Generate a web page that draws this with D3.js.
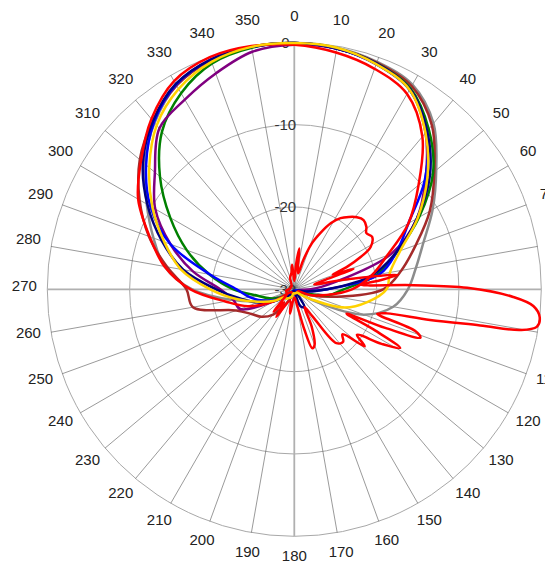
<!DOCTYPE html>
<html>
<head>
<meta charset="utf-8">
<script src="https://cdn.jsdelivr.net/npm/d3@7"></script>
<style>
  body { margin: 0; background: #fff; }
  svg text { font-family: "Liberation Sans", Arial, sans-serif; }
</style>
</head>
<body>
<svg width="545" height="564"></svg>
<script>
// angle ticks and ring ticks
var angleTicks = d3.range(0, 360, 10);
var ringTicks = [-30, -20, -10, 0];

// angles (deg) for the broad patterns
var angles = [0,10,20,30,40,50,60,70,80,90,100,110,120,130,140,150,160,170,
              180,190,200,210,220,230,240,250,260,270,280,290,300,310,320,330,340,350];

var gray   = [-0.1,-0.2,-0.6,-1.3,-3.7,-7.5,-10.6,-13.3,-15.0,-16.2,-17.8,-21.0,-27.0,-29.5,-29.8,-29.8,-29.8,-29.8,
              -29.8,-29.8,-29.8,-29.8,-29.5,-29.0,-28.5,-26.0,-22.5,-17.6,-14.0,-11.8,-9.3,-6.3,-3.6,-1.4,-0.4,-0.1];
var brown  = [-0.1,-0.3,-0.7,-1.5,-4.0,-7.8,-11.0,-14.3,-16.8,-19.2,-24.8,-28.0,-29.5,-29.8,-29.8,-29.8,-29.8,-29.8,
              -29.5,-29.5,-29.0,-28.0,-26.0,-24.8,-24.0,-22.5,-17.5,-16.9,-14.3,-11.2,-8.3,-5.5,-3.3,-1.4,-0.4,-0.1];
var green  = [-0.1,-0.3,-0.8,-1.8,-4.6,-8.0,-12.5,-16.7,-19.8,-24.0,-25.8,-28.5,-29.5,-29.8,-29.8,-29.8,-29.8,-29.8,
              -29.8,-29.8,-29.8,-29.8,-29.5,-29.0,-28.0,-26.8,-25.5,-22.6,-19.5,-16.1,-12.6,-8.7,-5.0,-2.5,-0.8,-0.2];
var purple = [-0.3,-0.3,-0.9,-2.0,-5.2,-9.2,-12.8,-17.5,-25.0,-28.0,-29.5,-29.5,-29.5,-29.8,-29.8,-29.8,-29.8,-29.8,
              -29.8,-29.8,-29.8,-29.5,-29.5,-29.0,-27.0,-23.0,-22.5,-21.0,-17.5,-14.0,-10.5,-7.9,-4.5,-3.4,-2.1,-0.7];
var blue   = [-0.1,-0.3,-0.9,-2.0,-5.0,-9.3,-14.0,-16.8,-19.5,-26.0,-28.5,-29.5,-29.8,-29.8,-29.8,-29.8,-29.8,-29.8,
              -29.8,-29.8,-29.8,-29.8,-29.5,-29.0,-27.5,-26.0,-24.5,-23.0,-19.6,-14.0,-9.8,-6.5,-3.5,-1.3,-0.3,-0.1];
var navy   = [-0.1,-0.3,-0.8,-1.9,-4.9,-8.5,-12.8,-16.8,-20.5,-26.0,-28.5,-29.5,-29.5,-29.5,-29.5,-27.5,-27.8,-29.5,
              -29.8,-29.8,-29.8,-29.5,-29.0,-28.5,-27.0,-25.3,-23.4,-20.5,-16.3,-12.9,-9.4,-6.0,-3.3,-1.2,-0.3,-0.1];
var redA   = [-0.3,-0.8,-1.5,-2.6,-5.8,-10.3,-14.0,-18.0,-20.5,-23.0,-26.0,-28.0,-29.5,-29.5,-29.5,-29.5,-29.5,-29.5,
              -29.5,-29.5,-29.5,-29.5,-29.5,-29.5,-27.0,-24.0,-21.5,-17.4,-14.0,-11.3,-8.1,-5.7,-3.0,-0.8,0.0,0.0];
var yellow = [-0.1,-0.2,-0.9,-2.0,-5.2,-8.9,-12.7,-16.3,-18.2,-18.8,-21.0,-23.5,-27.5,-29.0,-29.5,-29.5,-29.5,-29.5,
              -29.5,-29.5,-29.0,-28.8,-28.5,-28.5,-27.2,-25.6,-23.0,-19.8,-16.0,-13.2,-10.1,-7.0,-4.0,-1.9,-0.6,-0.1];

// the multi-lobe red pattern, own angle grid
var redBAngles = [0,4,7,10,14,17,21,25,29,33,37,41,45,49,52,56,61,64,67,69,71,73,76,79,82,84,86,88,89.5,92,94,96.5,
                  98.8,100.2,101,102.7,104.6,106.5,109,111,113,115,117,119,122,126,129,133,137,142,146,150,155,160,163,
                  166,170,180,190,200,213,218,223,230,240,260,280,300,320,340,350,355];
var redB = [-29,-27,-25,-27.5,-28,-26.3,-24,-22.4,-20.8,-19.7,-19,-18.4,-18.1,-18.4,-18.9,-18.6,-19.4,-21,-23.1,
            -25,-22.4,-26,-27.5,-24,-17.3,-19.5,-22,-15.5,-9,-3.4,-0.9,0,-0.2,-2.1,-7,-13.1,-18.4,-19.5,-14.5,-13.6,
            -18,-23,-19,-15.3,-17.5,-20.6,-19,-22,-21.3,-21.7,-26,-27.5,-25,-22.8,-22.5,-25,-28,-29,-27,-28.5,-26,-28,
            -26.3,-28.5,-29,-29,-29.5,-29.5,-29.5,-28.5,-28,-27];

var series = [
  { values: gray,   color: '#8c8c8c' },
  { values: brown,  color: '#a52a2a' },
  { values: green,  color: '#008000' },
  { values: purple, color: '#800080' },
  { values: blue,   color: '#0000ff' },
  { values: navy,   color: '#000080' },
  { values: redA,   color: '#ff0000' },
  { values: yellow, color: '#ffd200' }
];

var cx = 294.3, cy = 289.3, R = 247;

var svg = d3.select('svg');
var g = svg.append('g').attr('transform', 'translate(' + cx + ',' + cy + ')');

var rScale = d3.scaleLinear().domain([-30, 0]).range([0, R]);
var toRad = function(a) { return a * Math.PI / 180; };

// rings
g.selectAll('circle.ring')
  .data(ringTicks.filter(function(d) { return d > -30; }))
  .enter()
  .append('circle')
    .attr('class', 'ring')
    .attr('r', function(d) { return rScale(d); })
    .attr('fill', 'none')
    .attr('stroke', '#a8a8a8')
    .attr('stroke-width', 1);

// spokes
g.selectAll('line.spoke')
  .data(angleTicks)
  .enter()
  .append('line')
    .attr('class', 'spoke')
    .attr('x1', 0).attr('y1', 0)
    .attr('x2', function(d) { return R * Math.sin(toRad(d)); })
    .attr('y2', function(d) { return -R * Math.cos(toRad(d)); })
    .attr('stroke', function(d) { return d % 90 === 0 ? '#b0b0b0' : '#555'; })
    .attr('stroke-width', function(d) { return d % 90 === 0 ? 1.8 : 0.6; });

// angle labels (the ones on the right are cut by the edge, as in the source)
g.selectAll('text.angle')
  .data(angleTicks)
  .enter()
  .append('text')
    .attr('class', 'angle')
    .attr('x', function(d) { return 270 * Math.sin(toRad(d)); })
    .attr('y', function(d) { return -270 * Math.cos(toRad(d)) - 3.5; })
    .attr('text-anchor', 'middle')
    .attr('dominant-baseline', 'central')
    .attr('font-size', 15)
    .attr('fill', '#222')
    .text(function(d) { return d; });

// ring labels
g.selectAll('text.ringlabel')
  .data(ringTicks)
  .enter()
  .append('text')
    .attr('class', 'ringlabel')
    .attr('x', -9)
    .attr('y', function(d) { return -rScale(d); })
    .attr('text-anchor', 'middle')
    .attr('dominant-baseline', 'central')
    .attr('font-size', 15)
    .attr('fill', '#333')
    .text(function(d) { return d; });

var line = d3.lineRadial()
  .angle(function(d) { return toRad(d[0]); })
  .radius(function(d) { return rScale(d[1]); })
  .curve(d3.curveCatmullRomClosed.alpha(0.5));

series.forEach(function(s) {
  g.append('path')
    .datum(d3.zip(angles, s.values))
    .attr('d', line)
    .attr('fill', 'none')
    .attr('stroke', s.color)
    .attr('stroke-width', 2.5)
    .attr('stroke-linejoin', 'round');
});

g.append('path')
  .datum(d3.zip(redBAngles, redB))
  .attr('d', line)
  .attr('fill', 'none')
  .attr('stroke', '#ff0000')
  .attr('stroke-width', 2.5)
  .attr('stroke-linejoin', 'round');
</script>
</body>
</html>
